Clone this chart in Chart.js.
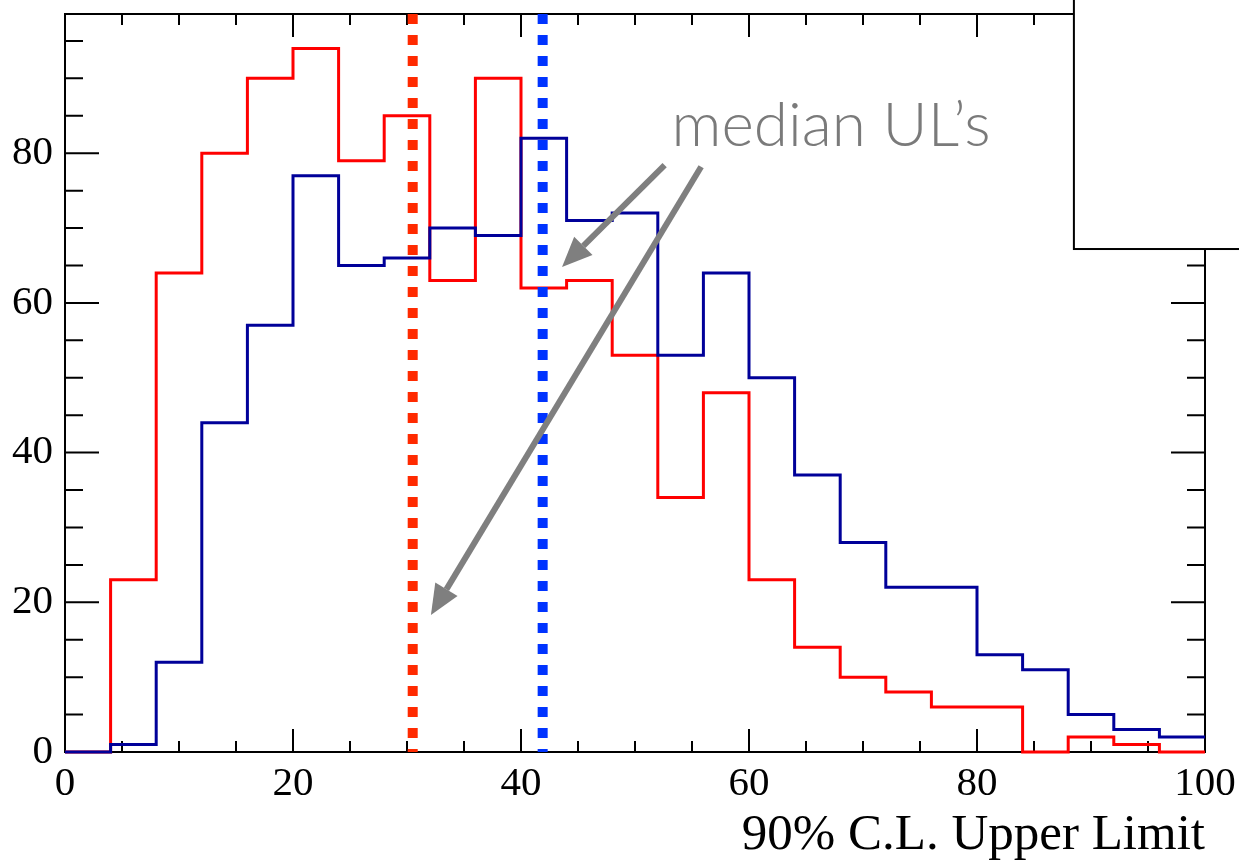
<!DOCTYPE html>
<html>
<head>
<meta charset="utf-8">
<script src="https://cdn.jsdelivr.net/npm/chart.js@4.4.1/dist/chart.umd.min.js"></script>
<style>
  html, body { margin: 0; padding: 0; background: #fff; }
</style>
</head>
<body>
<canvas id="myChart" width="1239" height="863"></canvas>
<script>
// histogram bins (edges) and counts per bin
const binEdges = [0, 4, 8, 12, 16, 20, 24, 28, 32, 36, 40, 44, 48, 52, 56, 60, 64, 68, 72, 76, 80, 84, 88, 92, 96, 100];
const redCounts = [0, 23, 64, 80, 90, 94, 79, 85, 63, 90, 62, 63, 53, 34, 48, 23, 14, 10, 8, 6, 6, 0, 2, 1, 0];
const blueCounts = [0, 1, 12, 44, 57, 77, 65, 66, 70, 69, 82, 71, 72, 53, 64, 50, 37, 28, 22, 22, 13, 11, 5, 3, 2];

const xTickValues = [0, 20, 40, 60, 80, 100];
const yTickValues = [0, 20, 40, 60, 80];
const medianRed = 30.5;
const medianBlue = 41.9;
const noteText = "median UL\u2019s";

// annotation arrows, in data units
const arrows = [
    { from: [52.6, 78.4], to: [43.6, 64.8] },
    { from: [55.8, 78.2], to: [32.1, 18.3] }
];
const notePos = [53.2, 81.0];
const legendCorner = [88.5, 67.2];

// point i = left edge of bin i; last point repeats the last bin to close at 100
const toSteps = (counts) => binEdges.map((e, i) => ({ x: e, y: counts[Math.min(i, counts.length - 1)] }));

const drawArrow = (ctx, x1, y1, x2, y2) => {
    const ang = Math.atan2(y2 - y1, x2 - x1);
    const headLen = 30, headW = 13;
    const bx = x2 - headLen * Math.cos(ang), by = y2 - headLen * Math.sin(ang);
    ctx.beginPath();
    ctx.moveTo(x1, y1);
    ctx.lineTo(bx, by);
    ctx.stroke();
    ctx.beginPath();
    ctx.moveTo(x2, y2);
    ctx.lineTo(bx + headW * Math.sin(ang), by - headW * Math.cos(ang));
    ctx.lineTo(bx - headW * Math.sin(ang), by + headW * Math.cos(ang));
    ctx.closePath();
    ctx.fill();
};

const framePlugin = {
    id: 'frame',
    beforeDatasetsDraw(chart) {
        const { ctx, chartArea: a, scales: { x, y } } = chart;
        ctx.save();
        ctx.strokeStyle = '#000';
        ctx.lineWidth = 2;
        ctx.strokeRect(a.left, a.top, a.right - a.left, a.bottom - a.top);
        ctx.beginPath();
        for (let v = 0; v <= 100; v += 5) {
            const px = x.getPixelForValue(v);
            const len = v % 20 === 0 ? 23 : 11;
            ctx.moveTo(px, a.bottom); ctx.lineTo(px, a.bottom - len);
            ctx.moveTo(px, a.top); ctx.lineTo(px, a.top + len);
        }
        for (let v = 0; v <= 95; v += 5) {
            const py = y.getPixelForValue(v);
            const len = v % 20 === 0 ? 34 : 18;
            ctx.moveTo(a.left, py); ctx.lineTo(a.left + len, py);
            ctx.moveTo(a.right, py); ctx.lineTo(a.right - len, py);
        }
        ctx.stroke();
        ctx.restore();
    },
    afterDatasetsDraw(chart) {
        const { ctx, chartArea: a, scales: { x, y } } = chart;
        ctx.save();
        // median lines
        ctx.lineWidth = 10;
        ctx.setLineDash([10, 11]);
        [[medianRed, '#ff2a00'], [medianBlue, '#0033ff']].forEach(([m, c]) => {
            const px = x.getPixelForValue(m);
            ctx.strokeStyle = c;
            ctx.beginPath();
            ctx.moveTo(px, a.top);
            ctx.lineTo(px, a.bottom);
            ctx.stroke();
        });
        ctx.setLineDash([]);
        // arrows
        ctx.strokeStyle = '#7f7f7f';
        ctx.fillStyle = '#7f7f7f';
        ctx.lineWidth = 6;
        arrows.forEach(ar => {
            drawArrow(ctx,
                x.getPixelForValue(ar.from[0]), y.getPixelForValue(ar.from[1]),
                x.getPixelForValue(ar.to[0]), y.getPixelForValue(ar.to[1]));
        });
        // note text
        ctx.fillStyle = '#7a7a7a';
        ctx.font = '300 62px Lato, "Open Sans", sans-serif';
        ctx.textBaseline = 'alphabetic';
        ctx.textAlign = 'left';
        ctx.fillText(noteText, x.getPixelForValue(notePos[0]), y.getPixelForValue(notePos[1]));
        ctx.restore();
    },
    afterDraw(chart) {
        const { ctx, scales: { x, y } } = chart;
        const lx = x.getPixelForValue(legendCorner[0]);
        const ly = y.getPixelForValue(legendCorner[1]);
        ctx.save();
        ctx.fillStyle = '#fff';
        ctx.fillRect(lx, -5, chart.width + 10 - lx, ly + 5);
        ctx.strokeStyle = '#000';
        ctx.lineWidth = 2;
        ctx.strokeRect(lx, -5, chart.width + 10 - lx, ly + 5);
        ctx.restore();
    }
};

const tickFont = { family: '"Liberation Serif", "Times New Roman", serif', size: 41 };

let ctx = document.getElementById('myChart').getContext('2d');
let myChart = new Chart(ctx, {
    type: 'line',
    data: {
        datasets: [
            {
                label: 'red',
                data: toSteps(redCounts),
                stepped: 'before',
                borderColor: '#ff0000',
                borderWidth: 3,
                pointRadius: 0,
                fill: false,
                clip: false,
                order: 1
            },
            {
                label: 'blue',
                data: toSteps(blueCounts),
                stepped: 'before',
                borderColor: '#000099',
                borderWidth: 3,
                pointRadius: 0,
                fill: false,
                clip: false,
                order: 0
            }
        ]
    },
    options: {
        responsive: false,
        animation: false,
        layout: { padding: { top: 14, right: 34, left: 0, bottom: 0 } },
        plugins: {
            legend: { display: false },
            tooltip: { enabled: false }
        },
        scales: {
            x: {
                type: 'linear',
                min: 0,
                max: 100,
                grid: { display: false, drawTicks: false },
                border: { display: false },
                afterBuildTicks: (s) => { s.ticks = xTickValues.map(v => ({ value: v })); },
                afterFit: (s) => { s.height = 111; s.paddingLeft = 0; s.paddingRight = 0; },
                ticks: { font: tickFont, color: '#000', padding: 8, maxRotation: 0, autoSkip: false },
                title: {
                    display: true,
                    text: '90% C.L. Upper Limit',
                    align: 'end',
                    color: '#000',
                    font: { family: '"Liberation Serif", "Times New Roman", serif', size: 51, lineHeight: 1 },
                    padding: { top: 0, bottom: 2 }
                }
            },
            y: {
                type: 'linear',
                min: 0,
                max: 98.6,
                grid: { display: false, drawTicks: false },
                border: { display: false },
                afterBuildTicks: (s) => { s.ticks = yTickValues.map(v => ({ value: v })); },
                afterFit: (s) => { s.width = 65; s.paddingTop = 0; s.paddingBottom = 0; },
                ticks: { font: tickFont, color: '#000', padding: 12 }
            }
        }
    },
    plugins: [framePlugin]
});
</script>
</body>
</html>
